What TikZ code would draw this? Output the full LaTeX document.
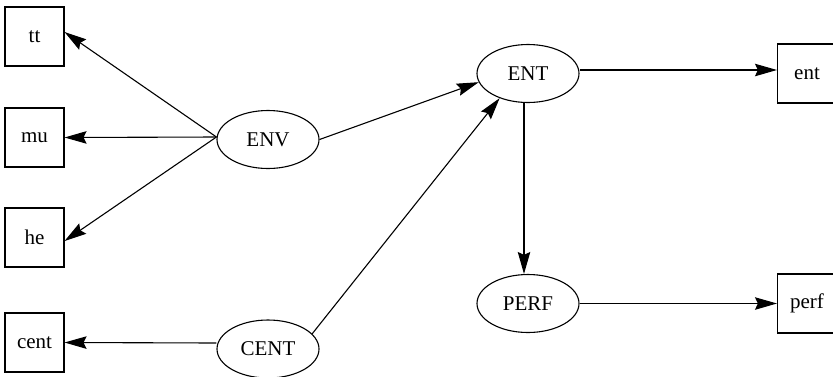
\documentclass[tikz,border=0pt]{standalone}
\usepackage{fontspec}
\setmainfont{Liberation Serif}
\usetikzlibrary{shapes.geometric,arrows.meta}
\begin{document}
\begin{tikzpicture}[x=1pt,y=-1pt,
  box/.style={draw,line width=1.1pt,minimum width=59pt,minimum height=59pt,inner sep=0pt,font=\fontsize{21}{25}\selectfont},
  oval/.style={draw,ellipse,line width=1.1pt,minimum width=102pt,minimum height=58pt,inner sep=0pt,font=\fontsize{21}{25}\selectfont},
  conn/.style={line width=1.1pt,-{Stealth[length=22pt,width=12.5pt,inset=3pt]}}]
\useasboundingbox[fill=white] (0,0) rectangle (833,376);
\node[box] (tt) at (34.5,36.5) {tt};
\node[box] (mu) at (34.5,137.5) {mu};
\node[box] (he) at (34.5,237.5) {he};
\node[box] (cent) at (34.5,342.5) {cent};
\node[oval] (ENV) at (268,139.5) {ENV};
\node[oval] (CENT) at (268,349) {CENT};
\node[oval] (ENT) at (528,73.5) {ENT};
\node[oval] (PERF) at (528,303.5) {PERF};
\node[box] (ent) at (807,73.5) {ent};
\node[box] (perf) at (807,303.5) {perf};
\coordinate (envw) at ([yshift=2.5pt]ENV.west);
\draw[conn] (envw) -- ([yshift=4.5pt]tt.east);
\draw[conn] (envw) -- (mu.east);
\draw[conn] (envw) -- ([yshift=-3.5pt]he.east);
\draw[conn] ([yshift=6pt]CENT.west) -- (cent.east);
\draw[conn] (ENV.east) -- (ENT.190);
\draw[conn] (CENT.19) -- (ENT.221);
\draw[conn] ([xshift=-4pt]ENT.south) -- ([xshift=-4pt]PERF.north);
\draw[conn] ([yshift=3.5pt]ENT.east) -- ([yshift=3.5pt]ent.west);
\draw[conn] (PERF.east) -- (perf.west);
\end{tikzpicture}
\end{document}
